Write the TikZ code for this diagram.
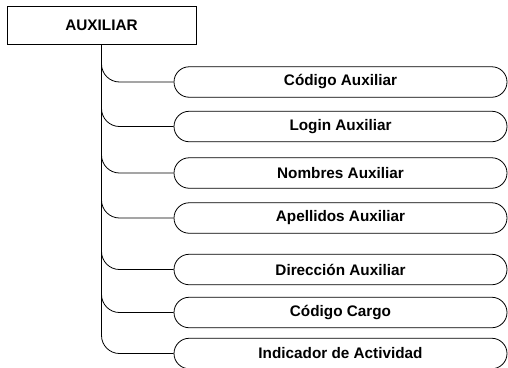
\documentclass[tikz,border=0pt]{standalone}
\usepackage{fontspec}
\setmainfont{Liberation Sans}
\usetikzlibrary{shapes.misc}
\begin{document}
\begin{tikzpicture}[x=1pt,y=-1pt,
  lbl/.style={font=\fontsize{15.3}{18}\selectfont\bfseries, text=black},
  topbox/.style={draw=black, line width=0.8pt, lbl, minimum width=189pt, minimum height=38pt, inner sep=0pt},
  pill/.style={draw=black, line width=0.8pt, lbl, rounded rectangle, minimum width=333pt, minimum height=30.5pt, inner sep=0pt},
  conn/.style={draw=black, line width=0.8pt, rounded corners=18pt}]
\useasboundingbox (0,0) rectangle (508,367);
\clip (0,0) rectangle (508,367);
\fill[white] (0,0) rectangle (508,367);
\node[topbox] (top) at (101.5,25.5) {AUXILIAR};
\node[pill] (p1) at (340.5,82)  {Código Auxiliar};
\node[pill] (p2) at (340.5,126.5) {Login Auxiliar};
\node[pill] (p3) at (340.5,173) {Nombres Auxiliar};
\node[pill] (p4) at (340.5,218) {Apellidos Auxiliar};
\node[pill] (p5) at (340.5,269.5) {Dirección Auxiliar};
\node[pill] (p6) at (340.5,312.5) {Código Cargo};
\node[pill] (p7) at (340.5,353.5) {Indicador de Actividad};
\foreach \p in {p1,p2,p3,p4,p5,p6,p7}{
  \draw[conn] (top.south) |- (\p.west);
}
\end{tikzpicture}
\end{document}
